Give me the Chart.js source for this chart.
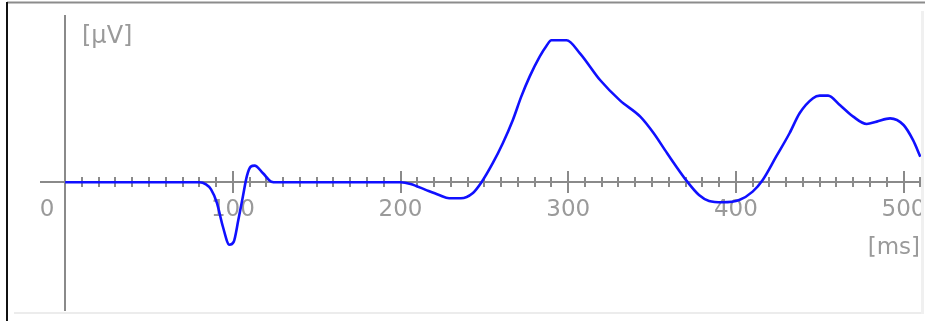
<!DOCTYPE html>
<html>
<head>
<meta charset="utf-8">
<script src="https://cdn.jsdelivr.net/npm/chart.js@4/dist/chart.umd.min.js"></script>
<style>
html,body{margin:0;padding:0;background:#fff;}
#wrap{width:925px;height:321px;position:relative;}
</style>
</head>
<body>
<div id="wrap"><canvas id="c" width="925" height="321"></canvas></div>
<script>
// ---- data ----
const times = [0, 80, 84, 87, 90.5, 94, 98, 100.5, 103.3, 106, 108.3, 110.7, 113, 118, 123, 126,
  200, 206, 215, 223, 229, 236, 243, 248.3, 255, 261, 267, 272, 277, 283, 287, 290, 299, 307,
  319, 331, 343, 351, 359, 371, 378, 384, 392, 402, 410, 416, 424, 432, 438, 446, 450, 455, 462,
  470, 478, 484, 492, 500, 505.6, 510];
const microvolts = [0, 0, -0.15, -0.5, -1.45, -3.1, -4.4, -4.2, -2.65, -1.0, 0.4, 1.1, 1.17, 0.63, 0.04, 0,
  0, -0.12, -0.54, -0.9, -1.13, -1.13, -0.78, 0, 1.34, 2.75, 4.39, 6.03, 7.44, 8.85, 9.6, 10.0, 10.0, 9.08,
  7.2, 5.75, 4.62, 3.45, 2.04, 0.04, -0.9, -1.32, -1.41, -1.25, -0.66, 0.16, 1.8, 3.45, 4.86, 5.92, 6.1, 6.1, 5.44,
  4.62, 4.1, 4.27, 4.5, 4.03, 2.98, 1.8];
const xTickValues = [0, 100, 200, 300, 400, 500];
const xTickLabels = ['0', '100', '200', '300', '400', '500'];
const xMinorStep = 10;
const xUnitLabel = '[ms]';
const yUnitLabel = '[μV]';
const xRange = [-15, 511];
const yRange = [-9.07, 11.78];

const points = times.map((t, i) => ({x: t, y: microvolts[i]}));

const axesPlugin = {
  id: 'crossAxes',
  beforeDatasetsDraw(chart) {
    const {ctx} = chart;
    const xs = chart.scales.x, ys = chart.scales.y;
    const x0 = Math.round(xs.getPixelForValue(0));
    const y0 = Math.round(ys.getPixelForValue(0));
    ctx.save();
    ctx.beginPath();
    ctx.rect(0, 0, 921, 321);
    ctx.clip();
    ctx.strokeStyle = '#8a8a8a';
    ctx.lineWidth = 2;
    ctx.beginPath();
    ctx.moveTo(xs.left, y0); ctx.lineTo(921, y0);
    ctx.moveTo(x0, ys.top); ctx.lineTo(x0, ys.bottom);
    for (let t = xMinorStep; t <= xs.max; t += xMinorStep) {
      const px = Math.round(xs.getPixelForValue(t));
      const major = xTickValues.includes(t);
      const h = major ? 11 : 5;
      ctx.moveTo(px, y0 - h); ctx.lineTo(px, y0 + h);
    }
    ctx.stroke();
    ctx.fillStyle = '#9a9a9a';
    ctx.font = '23px "DejaVu Sans"';
    ctx.textBaseline = 'middle';
    ctx.textAlign = 'center';
    xTickValues.forEach((v, i) => {
      let px = xs.getPixelForValue(v);
      if (v === 0) px -= 18;
      ctx.fillText(xTickLabels[i], px, y0 + 28);
    });
    ctx.textAlign = 'right';
    ctx.fillText(xUnitLabel, 920, y0 + 66);
    ctx.textAlign = 'left';
    ctx.font = '24px "DejaVu Sans"';
    ctx.fillText(yUnitLabel, x0 + 17, 37);
    ctx.restore();
  },
  afterDraw(chart) {
    const {ctx} = chart;
    ctx.save();
    ctx.fillStyle = '#8c8c8c';
    ctx.fillRect(7, 1.5, 918, 2);
    ctx.fillStyle = '#111';
    ctx.fillRect(6, 2, 2, 319);
    ctx.fillStyle = '#ececec';
    ctx.fillRect(14, 312, 907, 2);
    ctx.fillStyle = '#f0f0f0';
    ctx.fillRect(921, 11, 3, 303);
    ctx.restore();
  }
};

new Chart(document.getElementById('c'), {
  type: 'line',
  data: {
    datasets: [{
      data: points,
      borderColor: '#1010ff',
      borderWidth: 2.6,
      pointRadius: 0,
      fill: false,
      cubicInterpolationMode: 'monotone',
      clip: false
    }]
  },
  options: {
    responsive: false,
    devicePixelRatio: 1,
    animation: false,
    layout: {padding: {left: 40, right: 3, top: 15, bottom: 10}},
    plugins: {legend: {display: false}, tooltip: {enabled: false}},
    scales: {
      x: {type: 'linear', min: xRange[0], max: xRange[1], display: false},
      y: {type: 'linear', min: yRange[0], max: yRange[1], display: false}
    }
  },
  plugins: [axesPlugin]
});
</script>
</body>
</html>
